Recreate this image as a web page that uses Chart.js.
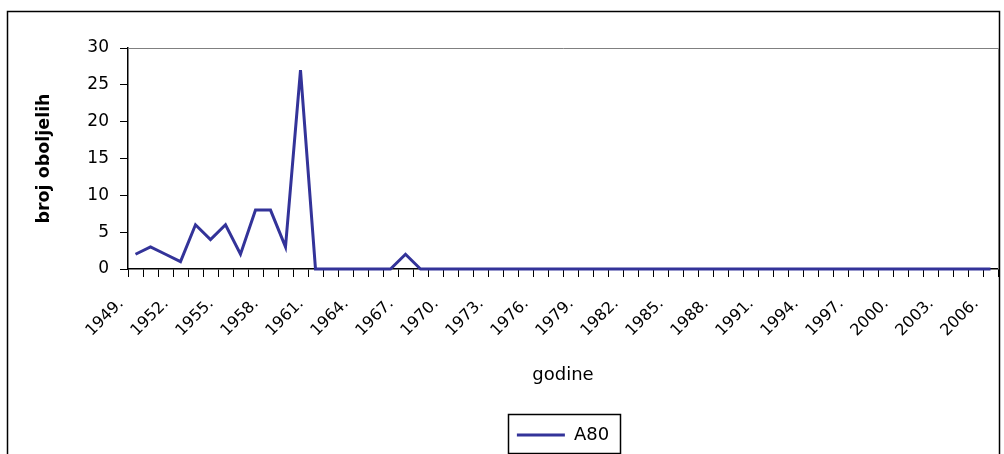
<!DOCTYPE html>
<html>
<head>
<meta charset="utf-8">
<script src="https://cdn.jsdelivr.net/npm/chart.js@4/dist/chart.umd.min.js"></script>
<style>
  html, body { margin: 0; padding: 0; background: #fff; }
  #wrap { width: 1004px; height: 454px; }
</style>
</head>
<body>
<div id="wrap"><canvas id="grafikon" width="1004" height="454"></canvas></div>
<script>
// godine 1949. - 2006.
const godine = [
  "1949.", "1950.", "1951.", "1952.", "1953.", "1954.", "1955.", "1956.", "1957.", "1958.",
  "1959.", "1960.", "1961.", "1962.", "1963.", "1964.", "1965.", "1966.", "1967.", "1968.",
  "1969.", "1970.", "1971.", "1972.", "1973.", "1974.", "1975.", "1976.", "1977.", "1978.",
  "1979.", "1980.", "1981.", "1982.", "1983.", "1984.", "1985.", "1986.", "1987.", "1988.",
  "1989.", "1990.", "1991.", "1992.", "1993.", "1994.", "1995.", "1996.", "1997.", "1998.",
  "1999.", "2000.", "2001.", "2002.", "2003.", "2004.", "2005.", "2006."
];

// broj oboljelih (A80)
const oboljeli = [
  2, 3, 2, 1, 6, 4, 6, 2, 8, 8,
  3, 27, 0, 0, 0, 0, 0, 0, 2, 0,
  0, 0, 0, 0, 0, 0, 0, 0, 0, 0,
  0, 0, 0, 0, 0, 0, 0, 0, 0, 0,
  0, 0, 0, 0, 0, 0, 0, 0, 0, 0,
  0, 0, 0, 0, 0, 0, 0, 0
];

const yTicks = [0, 5, 10, 15, 20, 25, 30];

const FONT = "'DejaVu Sans', sans-serif";

// okvir oko cijelog grafikona, rub plot područja i okvir legende
const okviri = {
  id: "okviri",
  afterDraw(chart) {
    const ctx = chart.ctx;
    const a = chart.chartArea;
    ctx.save();
    ctx.strokeStyle = "#000";
    ctx.lineWidth = 1.5;
    ctx.strokeRect(7.5, 11.5, 992, 460);

    ctx.strokeStyle = "#808080";
    ctx.lineWidth = 1;
    ctx.beginPath();
    ctx.moveTo(a.left, a.top + 0.5);
    ctx.lineTo(a.right + 0.5, a.top + 0.5);
    ctx.lineTo(a.right + 0.5, a.bottom);
    ctx.stroke();

    const hit = chart.legend.legendHitBoxes[0];
    if (hit) {
      ctx.strokeStyle = "#000";
      ctx.lineWidth = 1.5;
      ctx.strokeRect(Math.round(hit.left - 9) + 0.5, Math.round(hit.top - 12) + 0.5,
        Math.round(hit.width + 20), Math.round(hit.height + 21));
    }
    ctx.restore();
  }
};

new Chart(document.getElementById("grafikon"), {
  type: "line",
  data: {
    labels: godine,
    datasets: [{
      label: "A80",
      data: oboljeli,
      borderColor: "#333399",
      backgroundColor: "#333399",
      borderWidth: 3,
      pointRadius: 0,
      tension: 0,
      clip: 4
    }]
  },
  options: {
    responsive: false,
    animation: false,
    layout: { padding: { left: 8, right: 6, top: 48, bottom: 0 } },
    plugins: {
      tooltip: { enabled: false },
      legend: {
        position: "bottom",
        fullSize: false,
        labels: {
          usePointStyle: true,
          pointStyle: "line",
          pointStyleWidth: 48,
          boxHeight: 18,
          padding: 13,
          color: "#000",
          font: { family: FONT, size: 18 }
        }
      }
    },
    scales: {
      x: {
        offset: true,
        afterFit(scale) {
          scale.height = 144;
          scale.paddingRight = 0;
          scale.paddingLeft = 0;
        },
        grid: {
          offset: true,
          drawOnChartArea: false,
          drawTicks: true,
          tickLength: 8,
          tickColor: "#000"
        },
        border: { color: "#000", width: 1.5 },
        ticks: {
          autoSkip: false,
          minRotation: 45,
          maxRotation: 45,
          padding: 3,
          color: "#000",
          font: { family: FONT, size: 16 },
          callback(val, idx) { return idx % 3 === 0 ? godine[idx] + "\u00a0\u00a0\u00a0\u00a0" : ""; }
        },
        title: {
          display: true,
          text: "godine",
          color: "#000",
          font: { family: FONT, size: 18 },
          padding: { top: 0, bottom: 27 }
        }
      },
      y: {
        min: 0,
        max: 30,
        afterFit(scale) { scale.width = 120; },
        afterBuildTicks(scale) { scale.ticks = yTicks.map(v => ({ value: v })); },
        grid: {
          drawOnChartArea: false,
          drawTicks: true,
          tickLength: 8,
          tickColor: "#000"
        },
        border: { color: "#000", width: 1.5 },
        ticks: {
          padding: 11,
          color: "#000",
          font: { family: FONT, size: 17 }
        },
        title: {
          display: true,
          text: "broj oboljelih",
          color: "#000",
          font: { family: FONT, size: 17.5, weight: "bold" },
          padding: { top: 26, bottom: 0 }
        }
      }
    }
  },
  plugins: [okviri]
});
</script>
</body>
</html>
